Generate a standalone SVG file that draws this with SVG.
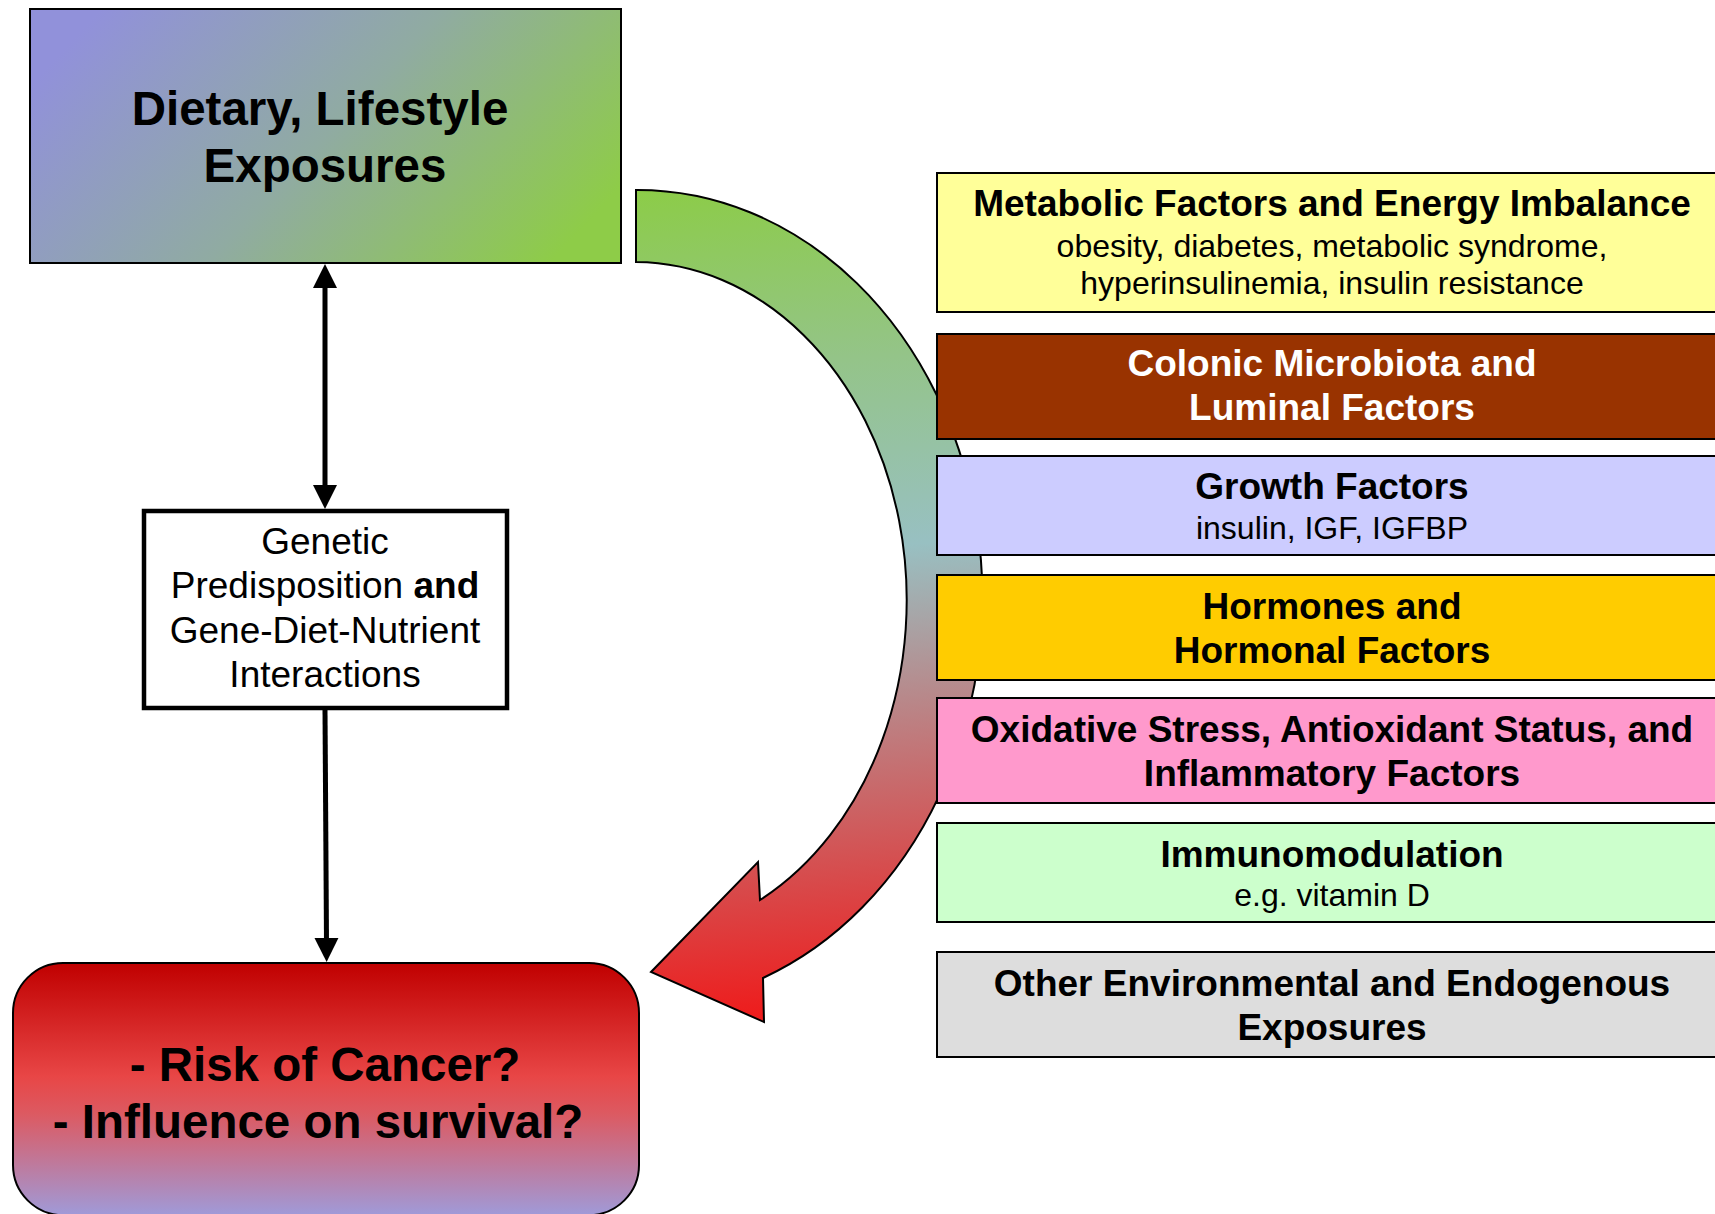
<svg xmlns="http://www.w3.org/2000/svg" width="1715" height="1214" viewBox="0 0 1715 1214">
<style>
text{font-family:"Liberation Sans",Arial,sans-serif;text-anchor:middle;fill:#000}
.b{font-weight:bold}
.t47{font-size:47.5px;font-weight:bold}
.t37{font-size:37px}
.t32{font-size:32px}
.rb{stroke:#000;stroke-width:2}
.conn{stroke:#000;stroke-width:5;fill:none}
</style>
<defs>
<linearGradient id="gTop" x1="0" y1="0.3" x2="1" y2="0.7">
<stop offset="0" stop-color="#9191da"/>
<stop offset="0.5" stop-color="#90aba2"/>
<stop offset="1" stop-color="#8ecc48"/>
</linearGradient>
<linearGradient id="gRisk" x1="0" y1="0" x2="0" y2="1">
<stop offset="0" stop-color="#c00000"/>
<stop offset="0.45" stop-color="#e84646"/>
<stop offset="0.6" stop-color="#dc5a62"/>
<stop offset="1" stop-color="#a09ad8"/>
</linearGradient>
<linearGradient id="gCurve" gradientUnits="userSpaceOnUse" x1="650" y1="190" x2="720" y2="1020">
<stop offset="0" stop-color="#8ccc48"/>
<stop offset="0.22" stop-color="#94c488"/>
<stop offset="0.45" stop-color="#98c0c2"/>
<stop offset="0.68" stop-color="#c07a7c"/>
<stop offset="1" stop-color="#ee1c1c"/>
</linearGradient>
<marker id="ah" markerUnits="userSpaceOnUse" markerWidth="26" markerHeight="26" viewBox="0 0 26 26" refX="4" refY="13" orient="auto-start-reverse">
<path d="M0,1 L24,13 L0,25 Z" fill="#000"/>
</marker>
</defs>

<g id="curved-arrow">
<path d="M636,190 A345,408 0 0 1 763,978 L764,1022 L651,972 L758,862 L760,900 A272,338 0 0 0 636,262 Z" fill="url(#gCurve)" stroke="#000" stroke-width="2"/>
</g>

<g id="connectors">
<line class="conn" x1="325" y1="284" x2="325" y2="489" marker-start="url(#ah)" marker-end="url(#ah)"/>
<line class="conn" x1="325" y1="710" x2="326.5" y2="942" marker-end="url(#ah)"/>
</g>

<g id="dietary">
<rect x="30" y="9" width="591" height="254" fill="url(#gTop)" stroke="#000" stroke-width="2"/>
<text class="t47" x="320" y="125">Dietary, Lifestyle</text>
<text class="t47" x="325" y="182">Exposures</text>
</g>

<g id="genetic">
<rect x="144" y="511" width="363" height="197" fill="#fff" stroke="#000" stroke-width="4.5"/>
<text class="t37" x="325" y="554">Genetic</text>
<text class="t37" x="325" y="598">Predisposition <tspan class="b">and</tspan></text>
<text class="t37" x="325" y="643">Gene-Diet-Nutrient</text>
<text class="t37" x="325" y="687">Interactions</text>
</g>

<g id="risk">
<rect x="13" y="963" width="626" height="252" rx="50" ry="50" fill="url(#gRisk)" stroke="#000" stroke-width="2"/>
<text class="t47" x="325" y="1081">- Risk of Cancer?</text>
<text class="t47" x="318" y="1138">- Influence on survival?</text>
</g>

<g id="metabolic">
<rect class="rb" x="937" y="173" width="790" height="139" fill="#ffff99"/>
<text class="t37 b" x="1332" y="216">Metabolic Factors and Energy Imbalance</text>
<text class="t32" x="1332" y="257">obesity, diabetes, metabolic syndrome,</text>
<text class="t32" x="1332" y="294">hyperinsulinemia, insulin resistance</text>
</g>

<g id="colonic">
<rect class="rb" x="937" y="334" width="790" height="105" fill="#993300"/>
<text class="t37 b" x="1332" y="376" style="fill:#fff">Colonic Microbiota and</text>
<text class="t37 b" x="1332" y="420" style="fill:#fff">Luminal Factors</text>
</g>

<g id="growth">
<rect class="rb" x="937" y="456" width="790" height="99" fill="#ccccff"/>
<text class="t37 b" x="1332" y="499">Growth Factors</text>
<text class="t32" x="1332" y="539">insulin, IGF, IGFBP</text>
</g>

<g id="hormones">
<rect class="rb" x="937" y="575" width="790" height="105" fill="#ffcc00"/>
<text class="t37 b" x="1332" y="619">Hormones and</text>
<text class="t37 b" x="1332" y="663">Hormonal Factors</text>
</g>

<g id="oxidative">
<rect class="rb" x="937" y="698" width="790" height="105" fill="#ff99cc"/>
<text class="t37 b" x="1332" y="742">Oxidative Stress, Antioxidant Status, and</text>
<text class="t37 b" x="1332" y="786">Inflammatory Factors</text>
</g>

<g id="immuno">
<rect class="rb" x="937" y="823" width="790" height="99" fill="#ccffcc"/>
<text class="t37 b" x="1332" y="867">Immunomodulation</text>
<text class="t32" x="1332" y="906">e.g. vitamin D</text>
</g>

<g id="other">
<rect class="rb" x="937" y="952" width="790" height="105" fill="#dddddd"/>
<text class="t37 b" x="1332" y="996">Other Environmental and Endogenous</text>
<text class="t37 b" x="1332" y="1040">Exposures</text>
</g>
</svg>
